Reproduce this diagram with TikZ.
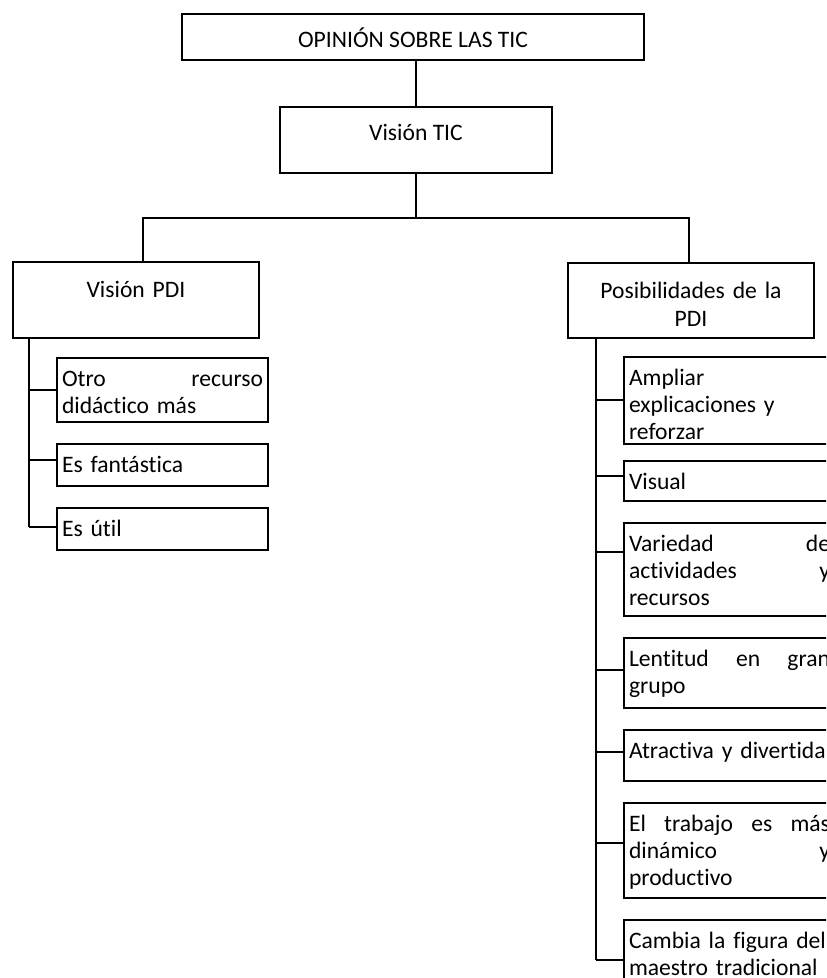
\documentclass[tikz,border=0pt]{standalone}
\usepackage{fontspec}
\setmainfont{Carlito}[Ligatures={NoCommon}]
\usetikzlibrary{positioning}
\tikzset{
head/.style={draw, inner sep=0pt, align=center, text height=16.75pt},
branch/.style={draw, inner sep=0pt, align=center, text width=123pt, text height=18pt},
leaf/.style={draw, inner xsep=2.5pt, inner ysep=0pt, text width=100.5pt, align=left, text height=14pt},
}

\begin{document}
\begin{tikzpicture}[x=0.5pt, y=-0.5pt, line width=1pt, node distance=10pt,
    font=\fontsize{11.8}{13.5}\selectfont]
        \useasboundingbox (0,0) rectangle (826,978);
        \clip (0,0) rectangle (826,978);

        \node[head, minimum width=231pt, text depth=6.25pt, anchor=north west] (opinion) at (181,13) {OPINIÓN SOBRE LAS TIC};
        \node[head, minimum width=136pt, text depth=16.25pt, anchor=north west] (tic) at (279,106) {Visión TIC};
        \node[branch, text depth=20pt, anchor=north west] (pdi) at (12,261) {Visión PDI};
        \node[branch, text depth=19.5pt, anchor=north west] (pos) at (567,262) {Posibilidades de la\\PDI};

        % left column
        \node[leaf, text depth=18pt, anchor=north west] (otro) at (56,357) {Otro \hfill recurso\\didáctico más};
        \node[leaf, text depth=7pt, below=of otro] (fant) {Es fantástica};
        \node[leaf, text depth=7pt, below=of fant] (util) {Es útil};

        % right column
        \node[leaf, text depth=29.5pt, anchor=north west] (ampl) at (623,356) {Ampliar\\explicaciones y\\reforzar};
        \node[leaf, text depth=6pt, below=7.5pt of ampl] (visual) {Visual};
        \node[leaf, text depth=32.5pt, below=of visual] (var) {Variedad \hfill de\\actividades \hfill y\\recursos};
        \node[leaf, text depth=21pt, below=of var] (lent) {Lentitud \hfill en \hfill gran\\grupo};
        \node[leaf, text depth=11.5pt, below=of lent] (atr) {Atractiva y divertida};
        \node[leaf, text depth=33.5pt, below=of atr] (trab) {El \hfill trabajo \hfill es \hfill más\\dinámico \hfill y\\productivo};
        \node[leaf, text depth=24pt, below=of trab] (camb) {Cambia la figura del\\maestro tradicional};

        \draw (opinion.south -| tic.north) -- (tic.north);
        \coordinate[below=22pt of tic.south] (split);
        \draw (tic.south) -- (split);
        \draw (split) -| ([xshift=3.5pt]pdi.north);
        \draw (split) -| ([xshift=-1pt]pos.north);

        \coordinate (lspine) at ([xshift=8.5pt]pdi.south west);
        \coordinate (rspine) at ([xshift=14.5pt]pos.south west);
        \foreach \n/\s in {otro/0pt, fant/2.5pt, util/1pt}{
            \coordinate (\n-in) at ([yshift=\s]\n.west);
            \draw (\n-in) -- (lspine |- \n-in);
        }
        \foreach \n/\s in {ampl/0.5pt, visual/2.5pt, var/9pt, lent/1.5pt, atr/2pt, trab/4pt, camb/-1pt}{
            \coordinate (\n-in) at ([yshift=\s]\n.west);
            \draw (\n-in) -- (rspine |- \n-in);
        }
        \draw (lspine) -- (lspine |- util-in);
        \draw (rspine) -- (rspine |- camb-in);
    \end{tikzpicture}
\end{document}
